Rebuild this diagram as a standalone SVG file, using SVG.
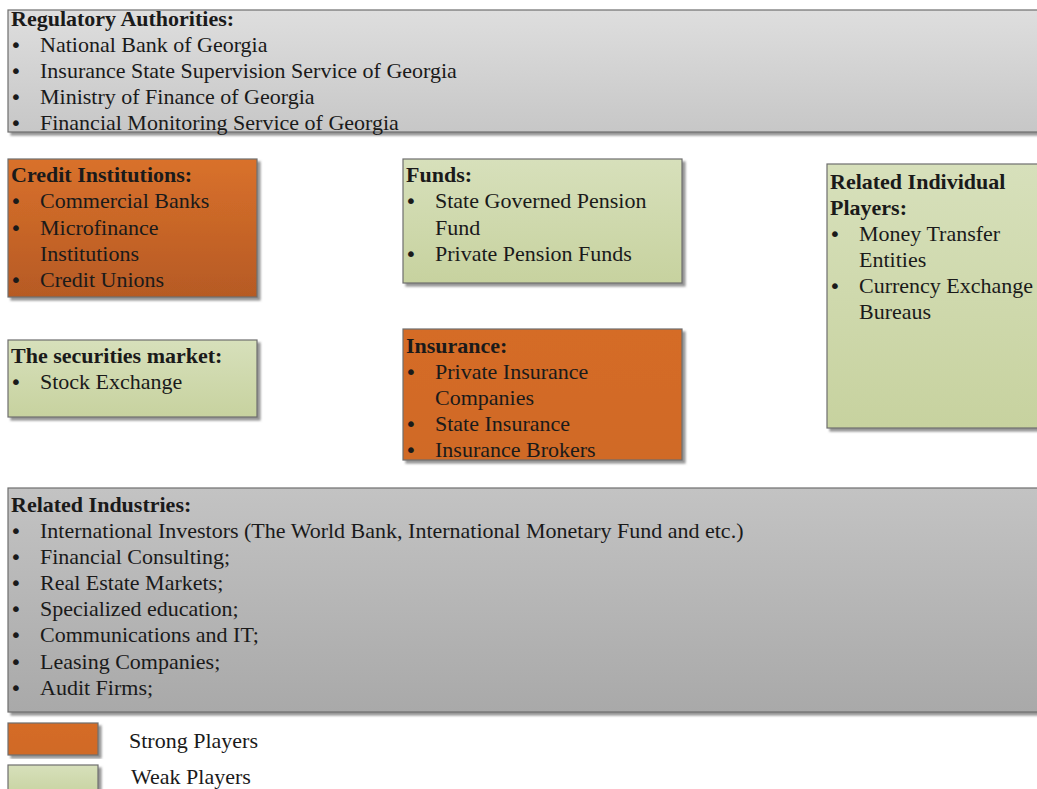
<svg xmlns="http://www.w3.org/2000/svg" width="1037" height="789" viewBox="0 0 1037 789">
<defs>
<linearGradient id="gGray1" x1="0" y1="0" x2="0" y2="1"><stop offset="0" stop-color="#dedede"/><stop offset="1" stop-color="#c7c7c7"/></linearGradient>
<linearGradient id="gGray2" x1="0" y1="0" x2="0" y2="1"><stop offset="0" stop-color="#c3c3c3"/><stop offset="1" stop-color="#a9a9a9"/></linearGradient>
<linearGradient id="gOr1" x1="0" y1="0" x2="0" y2="1"><stop offset="0" stop-color="#d9712b"/><stop offset="1" stop-color="#b65a24"/></linearGradient>
<linearGradient id="gOr2" x1="0" y1="0" x2="0" y2="1"><stop offset="0" stop-color="#d56c27"/><stop offset="1" stop-color="#d06a26"/></linearGradient>
<linearGradient id="gGr" x1="0" y1="0" x2="0" y2="1"><stop offset="0" stop-color="#d7e0bb"/><stop offset="1" stop-color="#c7d29f"/></linearGradient>
<filter id="sh" x="-5%" y="-5%" width="115%" height="115%"><feDropShadow dx="3" dy="3" stdDeviation="1" flood-color="#7a7a7a" flood-opacity="0.8"/></filter>
</defs>
<style>
.box{stroke:#6e6e6e;stroke-width:1.2;filter:url(#sh)}
text{font-family:"Liberation Serif","Times New Roman",serif;font-size:22px;fill:#1a1a1a}
.t{font-weight:bold}
.b{font-family:"DejaVu Sans",sans-serif;font-size:20px}
</style>
<rect width="1037" height="789" fill="#ffffff"/>
<g id="regulatory">
<rect class="box" x="8" y="10" width="1040" height="122" fill="url(#gGray1)"/>
<text class="t" x="11" y="26">Regulatory Authorities:</text>
<text class="b" x="10" y="52">•</text><text x="40" y="52">National Bank of Georgia</text>
<text class="b" x="10" y="78">•</text><text x="40" y="78">Insurance State Supervision Service of Georgia</text>
<text class="b" x="10" y="104">•</text><text x="40" y="104">Ministry of Finance of Georgia</text>
<text class="b" x="10" y="130">•</text><text x="40" y="130">Financial Monitoring Service of Georgia</text>
</g>
<g id="credit">
<rect class="box" x="8" y="159" width="249" height="138" fill="url(#gOr1)"/>
<text class="t" x="11" y="182">Credit Institutions:</text>
<text class="b" x="10" y="208">•</text><text x="40" y="208">Commercial Banks</text>
<text class="b" x="10" y="235">•</text><text x="40" y="235">Microfinance</text>
<text x="40" y="261">Institutions</text>
<text class="b" x="10" y="287">•</text><text x="40" y="287">Credit Unions</text>
</g>
<g id="funds">
<rect class="box" x="403" y="159" width="279" height="124" fill="url(#gGr)"/>
<text class="t" x="406" y="182">Funds:</text>
<text class="b" x="405" y="208">•</text><text x="435" y="208">State Governed Pension</text>
<text x="435" y="235">Fund</text>
<text class="b" x="405" y="261">•</text><text x="435" y="261">Private Pension Funds</text>
</g>
<g id="individual">
<rect class="box" x="827" y="164" width="220" height="264" fill="url(#gGr)"/>
<text class="t" x="830" y="189">Related Individual</text>
<text class="t" x="830" y="215">Players:</text>
<text class="b" x="829" y="241">•</text><text x="859" y="241">Money Transfer</text>
<text x="859" y="267">Entities</text>
<text class="b" x="829" y="293">•</text><text x="859" y="293">Currency Exchange</text>
<text x="859" y="319">Bureaus</text>
</g>
<g id="securities">
<rect class="box" x="8" y="340" width="249" height="77" fill="url(#gGr)"/>
<text class="t" x="11" y="363">The securities market:</text>
<text class="b" x="10" y="389">•</text><text x="40" y="389">Stock Exchange</text>
</g>
<g id="insurance">
<rect class="box" x="403" y="329" width="279" height="131" fill="url(#gOr2)"/>
<text class="t" x="406" y="353">Insurance:</text>
<text class="b" x="405" y="379">•</text><text x="435" y="379">Private Insurance</text>
<text x="435" y="405">Companies</text>
<text class="b" x="405" y="431">•</text><text x="435" y="431">State Insurance</text>
<text class="b" x="405" y="457">•</text><text x="435" y="457">Insurance Brokers</text>
</g>
<g id="industries">
<rect class="box" x="8" y="488" width="1040" height="224" fill="url(#gGray2)"/>
<text class="t" x="11" y="512">Related Industries:</text>
<text class="b" x="10" y="538">•</text><text x="40" y="538">International Investors (The World Bank, International Monetary Fund and etc.)</text>
<text class="b" x="10" y="564">•</text><text x="40" y="564">Financial Consulting;</text>
<text class="b" x="10" y="590">•</text><text x="40" y="590">Real Estate Markets;</text>
<text class="b" x="10" y="616">•</text><text x="40" y="616">Specialized education;</text>
<text class="b" x="10" y="642">•</text><text x="40" y="642">Communications and IT;</text>
<text class="b" x="10" y="669">•</text><text x="40" y="669">Leasing Companies;</text>
<text class="b" x="10" y="695">•</text><text x="40" y="695">Audit Firms;</text>
</g>
<g id="legend">
<rect class="box" x="8" y="723" width="90" height="32" fill="url(#gOr2)"/>
<text x="129" y="748">Strong Players</text>
<rect class="box" x="8" y="765" width="90" height="32" fill="url(#gGr)"/>
<text x="131" y="784">Weak Players</text>
</g>
<g id="connectors"/>
</svg>
